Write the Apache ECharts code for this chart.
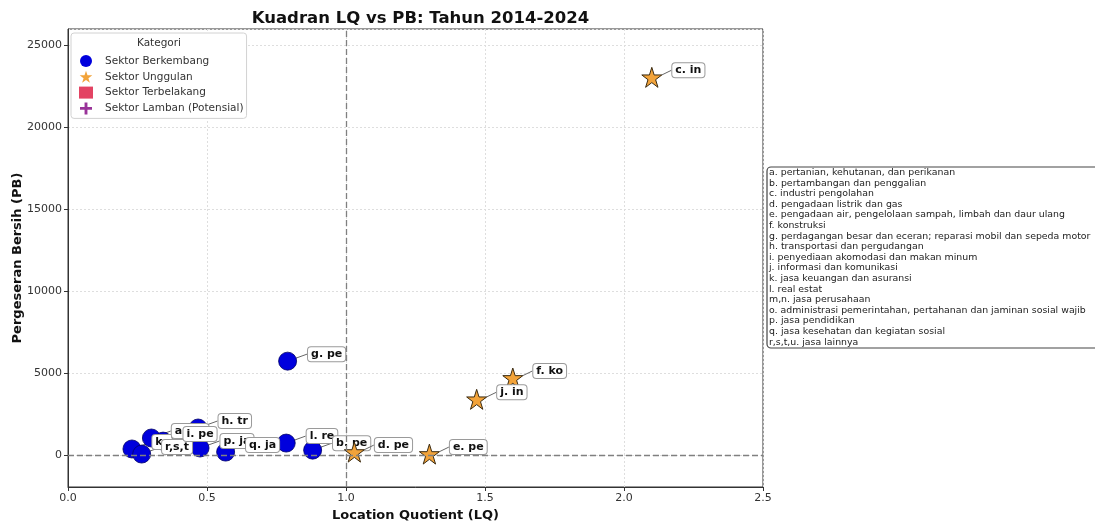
<!DOCTYPE html>
<html><head><meta charset="utf-8">
<script src="https://cdn.jsdelivr.net/npm/echarts@6/dist/echarts.min.js"></script>
<style>html,body{margin:0;padding:0;background:#fff}#c{width:1095px;height:526px}</style>
</head><body><div id="c"></div>
<script>
// ---- data ----
const berkembangNames = ['k. ja', 'r,s,t', 'a. pe', 'i. pe', 'h. tr', 'p. ja', 'q. ja', 'l. re', 'b. pe', 'g. pe'];
const berkembangLQ   = [0.23, 0.265, 0.30, 0.342, 0.468, 0.475, 0.567, 0.785, 0.88, 0.79];
const berkembangPB   = [370, 60, 1040, 850, 1650, 430, 180, 730, 300, 5730];
const unggulanNames  = ['d. pe', 'e. pe', 'j. in', 'f. ko', 'c. in'];
const unggulanLQ     = [1.03, 1.30, 1.47, 1.60, 2.10];
const unggulanPB     = [180, 60, 3400, 4700, 23050];
const categories = ['Sektor Berkembang', 'Sektor Unggulan', 'Sektor Terbelakang', 'Sektor Lamban (Potensial)'];
const keteranganLines = [
  'a. pertanian, kehutanan, dan perikanan',
  'b. pertambangan dan penggalian',
  'c. industri pengolahan',
  'd. pengadaan listrik dan gas',
  'e. pengadaan air, pengelolaan sampah, limbah dan daur ulang',
  'f. konstruksi',
  'g. perdagangan besar dan eceran; reparasi mobil dan sepeda motor',
  'h. transportasi dan pergudangan',
  'i. penyediaan akomodasi dan makan minum',
  'j. informasi dan komunikasi',
  'k. jasa keuangan dan asuransi',
  'l. real estat',
  'm,n. jasa perusahaan',
  'o. administrasi pemerintahan, pertahanan dan jaminan sosial wajib',
  'p. jasa pendidikan',
  'q. jasa kesehatan dan kegiatan sosial',
  'r,s,t,u. jasa lainnya'
];

// ---- chart ----
const FONT = 'DejaVu Sans';
const STAR = 'path://M50,0 L61.2,34.5 L97.6,34.5 L68.2,55.9 L79.4,90.5 L50,69.1 L20.6,90.5 L31.8,55.9 L2.4,34.5 L38.8,34.5 Z';
const PLUS = 'path://M38,0 H62 V38 H100 V62 H62 V100 H38 V62 H0 V38 H38 Z';

function pts(names, xs, ys) { return names.map((n, i) => ({ name: n, value: [xs[i], ys[i]] })); }

const pointLabel = {
  show: true, position: 'right', distance: 5,
  formatter: p => p.name,
  fontFamily: FONT, fontWeight: 'bold', fontSize: 11, color: '#111',
  backgroundColor: '#fff', borderColor: '#9a9a9a', borderWidth: 1, borderRadius: 3,
  padding: [2, 3, 1, 3]
};
const pointLabelLine = { show: true, lineStyle: { color: '#666', width: 1 } };

const chart = echarts.init(document.getElementById('c'), null, { renderer: 'canvas' });
chart.setOption({
  animation: false,
  textStyle: { fontFamily: FONT },
  title: {
    text: 'Kuadran LQ vs PB: Tahun 2014-2024', left: 415.5, top: 5, textAlign: 'center',
    textStyle: { fontFamily: FONT, fontSize: 16.5, fontWeight: 'bold', color: '#111' }
  },
  grid: { left: 68, right: 332, top: 29, bottom: 39, containLabel: false, outerBoundsMode: 'none',
          show: true, borderColor: '#333', borderWidth: 1, backgroundColor: 'transparent' },
  legend: {
    left: 71, top: 33, orient: 'vertical',
    padding: [22, 3, 4, 8], itemGap: 3.8, itemWidth: 14, itemHeight: 12,
    backgroundColor: '#fff', borderColor: '#d2d2d2', borderWidth: 1, borderRadius: 3,
    itemStyle: { borderWidth: 0 },
    textStyle: { fontFamily: FONT, fontSize: 10.5, color: '#333', padding: [0, 0, 0, 7] },
    data: [
      { name: categories[0], icon: 'circle' },
      { name: categories[1], icon: STAR },
      { name: categories[2], icon: 'rect' },
      { name: categories[3], icon: PLUS }
    ]
  },
  xAxis: {
    type: 'value', min: 0, max: 2.5, interval: 0.5,
    name: 'Location Quotient (LQ)', nameLocation: 'middle', nameGap: 22, nameMoveOverlap: false,
    nameTextStyle: { fontFamily: FONT, fontSize: 13, fontWeight: 'bold', color: '#111' },
    axisLine: { show: true, onZero: false, lineStyle: { color: '#333' } },
    axisTick: { show: true, length: 4, lineStyle: { color: '#333' } },
    axisLabel: { fontFamily: FONT, fontSize: 11, color: '#333', margin: 6, formatter: v => v.toFixed(1) },
    splitLine: { show: true, lineStyle: { color: '#dedede', type: [2, 2] } }
  },
  yAxis: {
    type: 'value', min: -1950, max: 26000, splitNumber: 5,
    name: 'Pergeseran Bersih (PB)', nameLocation: 'middle', nameGap: 44, nameRotate: 90, nameMoveOverlap: false,
    nameTextStyle: { fontFamily: FONT, fontSize: 13, fontWeight: 'bold', color: '#111' },
    axisLine: { show: true, onZero: false, lineStyle: { color: '#333' } },
    axisTick: { show: true, length: 4, lineStyle: { color: '#333' } },
    axisLabel: { fontFamily: FONT, fontSize: 11, color: '#333', margin: 6, showMinLabel: false, showMaxLabel: false,
                 formatter: v => String(v) },
    splitLine: { show: true, lineStyle: { color: '#dedede', type: [2, 2] } }
  },
  series: [
    {
      name: categories[0], type: 'scatter', symbol: 'circle', symbolSize: 18,
      itemStyle: { color: '#0000dd', borderColor: '#000066', borderWidth: 0.8, opacity: 1 },
      data: pts(berkembangNames, berkembangLQ, berkembangPB),
      label: pointLabel, labelLine: pointLabelLine,
      labelLayout: () => ({ dx: 6, dy: -7 }),
      markLine: {
        silent: true, symbol: 'none', label: { show: false },
        lineStyle: { color: '#808080', type: [6, 3], width: 1.3 },
        data: [{ xAxis: 1.0 }, { yAxis: 0 }]
      },
      z: 3
    },
    {
      name: categories[1], type: 'scatter', symbol: STAR, symbolSize: 20,
      itemStyle: { color: '#f2a33a', borderColor: '#3a2a10', borderWidth: 1, opacity: 1 },
      data: pts(unggulanNames, unggulanLQ, unggulanPB),
      label: pointLabel, labelLine: pointLabelLine,
      labelLayout: () => ({ dx: 5, dy: -7 }),
      z: 4
    },
    { name: categories[2], type: 'scatter', symbol: 'rect', itemStyle: { color: '#dc143c' }, data: [] },
    { name: categories[3], type: 'scatter', symbol: PLUS, itemStyle: { color: '#800080' }, data: [] }
  ],
  graphic: [
    {
      type: 'text', x: 159, y: 38, z: 100,
      style: { text: 'Kategori', font: '10.5px "DejaVu Sans"', fill: '#333', textAlign: 'center' }
    },
    {
      type: 'rect', shape: { x: 767, y: 167, width: 340, height: 181, r: 4 },
      style: { fill: '#fff', stroke: '#444', lineWidth: 1.2 }, z: 50
    },
    {
      type: 'text', x: 769, y: 167.2, z: 51,
      style: { text: keteranganLines.join('\n'), font: '9.4px "DejaVu Sans"', fill: '#222', lineHeight: 10.6, textVerticalAlign: 'top' }
    }
  ]
});
</script>
</body></html>
